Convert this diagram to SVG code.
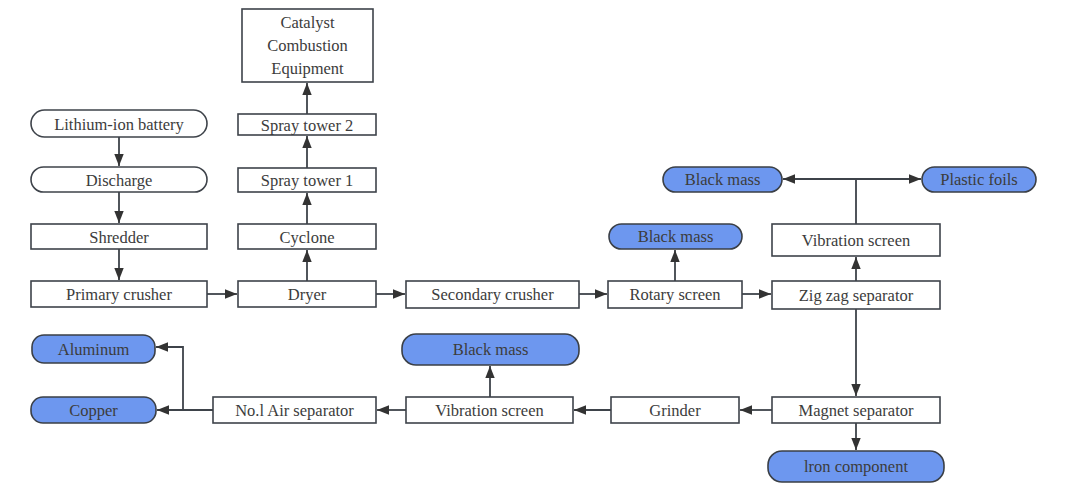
<svg xmlns="http://www.w3.org/2000/svg" width="1066" height="492" viewBox="0 0 1066 492" font-family="Liberation Serif, Times New Roman, serif">
<style>
.box{fill:#fff;stroke:#3e434a;stroke-width:1.6}
.out{fill:#6d97ef;stroke:#3a3f46;stroke-width:1.6}
.t{font-size:16.5px;fill:#3c3c3c;text-anchor:middle;dominant-baseline:central}
.c{fill:none;stroke:#3e434a;stroke-width:1.8}
</style>
<defs>
<marker id="ah" viewBox="0 0 12 10" refX="12" refY="5" markerWidth="12" markerHeight="10" markerUnits="userSpaceOnUse" orient="auto">
<path d="M0,0.3 L12,5 L0,9.7 Z" fill="#333"/>
</marker>
</defs>
<rect width="1066" height="492" fill="#fff"/>
<g id="connectors">
<path class="c" d="M119,137 V166" marker-end="url(#ah)"/>
<path class="c" d="M119,192 V223" marker-end="url(#ah)"/>
<path class="c" d="M119,249 V280" marker-end="url(#ah)"/>
<path class="c" d="M207,294 H237" marker-end="url(#ah)"/>
<path class="c" d="M307,281 V250" marker-end="url(#ah)"/>
<path class="c" d="M307,224 V193" marker-end="url(#ah)"/>
<path class="c" d="M307,168 V136" marker-end="url(#ah)"/>
<path class="c" d="M307,114 V83" marker-end="url(#ah)"/>
<path class="c" d="M376,294 H405" marker-end="url(#ah)"/>
<path class="c" d="M579,294 H607" marker-end="url(#ah)"/>
<path class="c" d="M675,281 V250" marker-end="url(#ah)"/>
<path class="c" d="M742,294 H771" marker-end="url(#ah)"/>
<path class="c" d="M856,281 V257" marker-end="url(#ah)"/>
<path class="c" d="M856,224 V179 H783" marker-end="url(#ah)"/>
<path class="c" d="M856,179 H921" marker-end="url(#ah)"/>
<path class="c" d="M856,309 V396" marker-end="url(#ah)"/>
<path class="c" d="M856,423 V450" marker-end="url(#ah)"/>
<path class="c" d="M772,410 H740" marker-end="url(#ah)"/>
<path class="c" d="M611,410 H574" marker-end="url(#ah)"/>
<path class="c" d="M490,397 V366" marker-end="url(#ah)"/>
<path class="c" d="M406,410 H377" marker-end="url(#ah)"/>
<path class="c" d="M213,410 H157" marker-end="url(#ah)"/>
<path class="c" d="M183,410 V347 H156" marker-end="url(#ah)"/>
</g>
<g id="n-catalyst"><rect class="box" x="242" y="9" width="131" height="73"/><text class="t" x="307.5" y="22">Catalyst</text><text class="t" x="307.5" y="45">Combustion</text><text class="t" x="307.5" y="68">Equipment</text></g>
<g id="n-battery"><rect class="box" x="31" y="110" width="176" height="27" rx="13.5"/><text class="t" x="119" y="124">Lithium-ion battery</text></g>
<g id="n-discharge"><rect class="box" x="31" y="167" width="176" height="25" rx="12.5"/><text class="t" x="119" y="180">Discharge</text></g>
<g id="n-shredder"><rect class="box" x="31" y="224" width="176" height="25"/><text class="t" x="119" y="237">Shredder</text></g>
<g id="n-primary"><rect class="box" x="31" y="281" width="176" height="26"/><text class="t" x="119" y="294">Primary crusher</text></g>
<g id="n-spray2"><rect class="box" x="238" y="114" width="138" height="21"/><text class="t" x="307" y="125">Spray tower 2</text></g>
<g id="n-spray1"><rect class="box" x="238" y="168" width="138" height="24"/><text class="t" x="307" y="180">Spray tower 1</text></g>
<g id="n-cyclone"><rect class="box" x="238" y="224" width="138" height="25"/><text class="t" x="307" y="237">Cyclone</text></g>
<g id="n-dryer"><rect class="box" x="238" y="281" width="138" height="26"/><text class="t" x="307" y="294">Dryer</text></g>
<g id="n-secondary"><rect class="box" x="406" y="281" width="173" height="27"/><text class="t" x="492.5" y="294.5">Secondary crusher</text></g>
<g id="n-rotary"><rect class="box" x="608" y="281" width="134" height="27"/><text class="t" x="675" y="294.5">Rotary screen</text></g>
<g id="n-bm1"><rect class="out" x="609" y="224" width="133" height="25" rx="12.5"/><text class="t" x="675.5" y="236.5">Black mass</text></g>
<g id="n-zigzag"><rect class="box" x="772" y="281" width="168" height="28"/><text class="t" x="856" y="295">Zig zag separator</text></g>
<g id="n-vib1"><rect class="box" x="772" y="224" width="168" height="32"/><text class="t" x="856" y="240">Vibration screen</text></g>
<g id="n-bm2"><rect class="out" x="663" y="167" width="119" height="25" rx="12.5"/><text class="t" x="722.5" y="179.5">Black mass</text></g>
<g id="n-plastic"><rect class="out" x="922" y="167" width="114" height="25" rx="12.5"/><text class="t" x="979" y="179.5">Plastic foils</text></g>
<g id="n-magnet"><rect class="box" x="772" y="397" width="168" height="26"/><text class="t" x="856" y="410">Magnet separator</text></g>
<g id="n-iron"><rect class="out" x="768" y="451" width="176" height="31" rx="14"/><text class="t" x="856" y="466.5">lron component</text></g>
<g id="n-grinder"><rect class="box" x="611" y="397" width="128" height="26"/><text class="t" x="675" y="410">Grinder</text></g>
<g id="n-vib2"><rect class="box" x="406" y="397" width="167" height="26"/><text class="t" x="489.5" y="410">Vibration screen</text></g>
<g id="n-bm3"><rect class="out" x="402" y="334" width="177" height="31" rx="14"/><text class="t" x="490.5" y="349.5">Black mass</text></g>
<g id="n-air"><rect class="box" x="213" y="397" width="163" height="26"/><text class="t" x="294.5" y="410">No.l Air separator</text></g>
<g id="n-aluminum"><rect class="out" x="32" y="335" width="123" height="28" rx="12"/><text class="t" x="93.5" y="349">Aluminum</text></g>
<g id="n-copper"><rect class="out" x="31" y="397" width="125" height="26" rx="12"/><text class="t" x="93.5" y="410">Copper</text></g>
</svg>
